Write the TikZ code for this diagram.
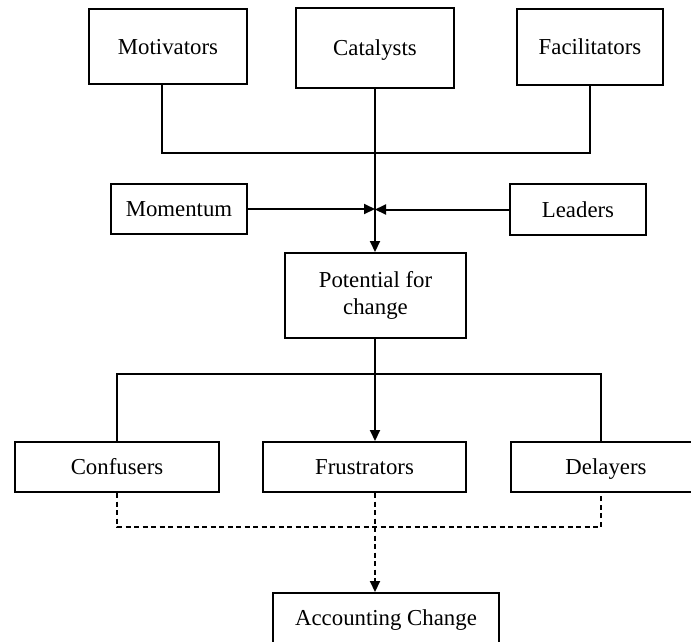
\documentclass[tikz,border=0pt]{standalone}
\usepackage{fontspec}
\setmainfont{Liberation Serif}
\usetikzlibrary{arrows.meta}
\tikzset{
	box/.style n args={2}{draw, line width=2pt, minimum width=#1, minimum height=#2, inner sep=0pt, align=center},
	oneline/.style={text height=15pt, text depth=0pt},
	link/.style={line width=2pt},
	linkarrow/.style={line width=2pt, -{Triangle[length=11pt,width=10pt]}},
	dashlink/.style={line width=2pt, dash pattern=on 5pt off 3.5pt}
}

\begin{document}
\begin{tikzpicture}[x=1pt, y=-1pt, font=\fontsize{22.8}{27}\selectfont]
			%%%%% START %%%%%
			\useasboundingbox (0, 0) rectangle (691, 641);
			\clip (0, 0) rectangle (691, 641);
			
			\node[box={158pt}{75pt}, oneline] (mot) at (168, 46.5) {Motivators};
			\node[box={158pt}{80pt}, oneline] (cat) at (375, 48) {Catalysts};
			\node[box={146pt}{76pt}, oneline] (fac) at (590, 47) {Facilitators};
			
			\node[box={136pt}{50pt}, oneline] (mom) at (179, 209) {Momentum};
			\node[box={136pt}{51pt}, oneline] (lead) at (578, 209.5) {Leaders};
			
			\node[box={181pt}{85pt}] (pot) at (375.5, 295.5) {Potential for\\change};
			
			\node[box={204pt}{50pt}, oneline] (conf) at (117, 467) {Confusers};
			\node[box={203pt}{50pt}, oneline] (frus) at (364.5, 467) {Frustrators};
			\node[box={190pt}{50pt}, oneline] (del) at (606, 467) {Delayers};
			
			\node[box={226pt}{50pt}, oneline] (acc) at (386, 618) {Accounting Change};
			
			\coordinate (topjoin) at (375, 153);
			\coordinate (midjoin) at (375, 374);
			\coordinate (lowjoin) at (375, 527);
			
			% upper part
			\draw[link] ([xshift=-6pt]mot.south) |- (topjoin) -| (fac.south);
			\draw[linkarrow] (cat.south) -- (cat.south |- pot.north);
			\draw[linkarrow] (mom.east) -- (mom.east -| cat.south);
			\draw[linkarrow] (lead.west) -- (lead.west -| cat.south);
			
			% lower part
			\draw[link] (conf.north) |- (midjoin) -| ([xshift=-5pt]del.north);
			\draw[linkarrow] (midjoin) -- (midjoin |- frus.north);
			\draw[link] (pot.south -| midjoin) -- (midjoin);
			\draw[dashlink] (conf.south) |- (lowjoin) -| ([xshift=-5pt]del.south);
			\draw[dashlink, -{Triangle[length=11pt,width=10pt]}] (midjoin |- frus.south) -- (midjoin |- acc.north);
			
			%%%%% END %%%%%
\end{tikzpicture}
\end{document}
